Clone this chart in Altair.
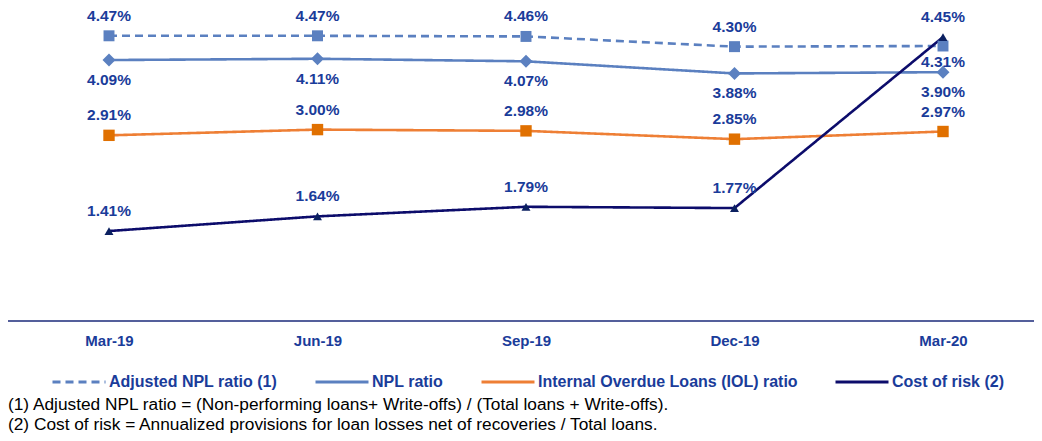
import altair as alt
import pandas as pd

periods = ["Mar-19", "Jun-19", "Sep-19", "Dec-19", "Mar-20"]
series_names = ["Adjusted NPL ratio (1)", "NPL ratio", "Internal Overdue Loans (IOL) ratio", "Cost of risk (2)"]
adjusted_npl = [4.47, 4.47, 4.46, 4.30, 4.31]
npl = [4.09, 4.11, 4.07, 3.88, 3.90]
iol = [2.91, 3.00, 2.98, 2.85, 2.97]
cost_of_risk = [1.41, 1.64, 1.79, 1.77, 4.45]
label_side = {
    "Adjusted NPL ratio (1)": ["above", "above", "above", "above", "below_close"],
    "NPL ratio": ["below"] * 5,
    "Internal Overdue Loans (IOL) ratio": ["above"] * 5,
    "Cost of risk (2)": ["above"] * 5,
}
footnotes = [
    "(1) Adjusted NPL ratio = (Non-performing loans+ Write-offs) / (Total loans + Write-offs).",
    "(2) Cost of risk = Annualized provisions for loan losses net of recoveries / Total loans.",
]

rows = []
for name, vals in zip(series_names, [adjusted_npl, npl, iol, cost_of_risk]):
    for i, p in enumerate(periods):
        rows.append({"series": name, "period": p, "idx": i, "value": vals[i],
                     "label": f"{vals[i]:.2f}%", "side": label_side[name][i]})
df = pd.DataFrame(rows)

FONT = "Liberation Sans"
LBL = "#1A3C9A"
line_colors = ["#5B80C0", "#5B80C0", "#EE7F35", "#0C0C6B"]
marker_shapes = ["square", "diamond", "square", "triangle-up"]
marker_fills = ["#5B80C0", "#5B80C0", "#E07000", "#0B2060"]
marker_sizes = [120, 170, 130, 80]

W, H = 1026, 309

x_enc = alt.X("period:N", sort=periods,
              scale=alt.Scale(type="point", range=[101, 935], padding=0),
              axis=alt.Axis(title=None, domain=False, ticks=False, grid=False,
                            labelFont=FONT, labelFontSize=15, labelFontWeight="bold",
                            labelColor=LBL, labelPadding=12, labelAngle=0))
y_enc = alt.Y("value:Q", scale=alt.Scale(domain=[0, 4.843], nice=False, zero=True), axis=None)

base = alt.Chart(df)

lines = base.mark_line(strokeWidth=2.6).encode(
    x=x_enc, y=y_enc,
    color=alt.Color("series:N", scale=alt.Scale(domain=series_names, range=line_colors),
                    legend=alt.Legend(title=None, orient="none", legendX=43, legendY=342,
                                      direction="horizontal", symbolType="stroke",
                                      symbolSize=2809, symbolStrokeWidth=3,
                                      labelFont=FONT, labelFontSize=16, labelFontWeight="bold",
                                      labelColor=LBL, columnPadding=31, labelOffset=2,
                                      labelLimit=400)),
    strokeDash=alt.StrokeDash("series:N", scale=alt.Scale(domain=series_names,
                              range=[[8, 5], [1, 0], [1, 0], [1, 0]])),
    order=alt.Order("idx:Q"),
)

point_layers = []
for name, shp, col, sz in zip(series_names, marker_shapes, marker_fills, marker_sizes):
    point_layers.append(
        base.transform_filter(alt.datum.series == name).mark_point(
            filled=True, opacity=1, shape=shp, color=col, size=sz
        ).encode(x=x_enc, y=y_enc)
    )

def labels(side, dy):
    return base.transform_filter(alt.datum.side == side).mark_text(
        dy=dy, font=FONT, fontSize=15.5, fontWeight="bold", color=LBL, baseline="middle"
    ).encode(x=x_enc, y=y_enc, text="label:N")

one = alt.Data(values=[{}])
axis_line = alt.Chart(one).mark_rule(color="#1B2A7A", strokeWidth=1.5).encode(
    x=alt.value(0), x2=alt.value(1034), y=alt.value(H))

foot1 = alt.Chart(one).mark_text(align="left", baseline="middle", font=FONT, fontSize=17.3,
                                 color="#000000").encode(
    x=alt.value(0), y=alt.value(393), text=alt.value(footnotes[0]))
foot2 = alt.Chart(one).mark_text(align="left", baseline="middle", font=FONT, fontSize=17.3,
                                 color="#000000").encode(
    x=alt.value(0), y=alt.value(413), text=alt.value(footnotes[1]))

chart = alt.layer(axis_line, lines, *point_layers,
                  labels("above", -20), labels("below", 20),
                  labels("below_close", 16), foot1, foot2).properties(
    width=W, height=H,
    background="white",
    autosize=alt.AutoSizeParams(type="none"),
    padding={"left": 0, "top": 4, "right": 0, "bottom": 112},
).configure_view(stroke=None)

chart.save("out.html", embed_options={"renderer": "svg", "actions": False})
